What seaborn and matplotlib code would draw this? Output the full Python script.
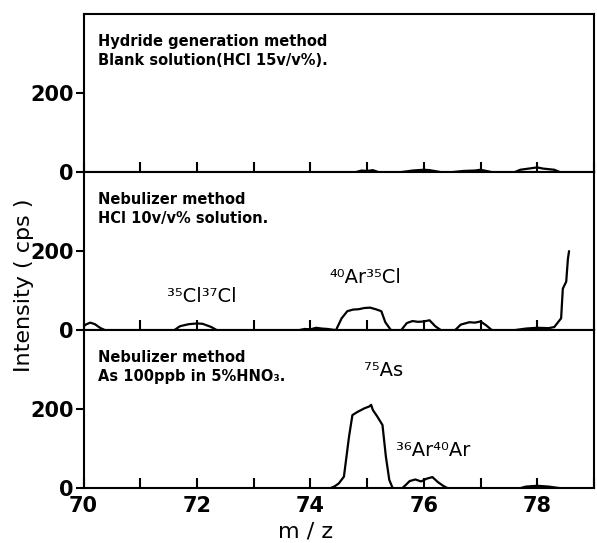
import numpy as np
import pandas as pd
import matplotlib
matplotlib.use("Agg")
import matplotlib.pyplot as plt
import seaborn as sns

# Hydride generation, blank solution
hydride_mz = [70.0, 74.8, 74.9, 75.0, 75.1, 75.2, 75.6, 75.8, 76.0, 76.1, 76.3, 76.5, 76.7,
              76.9, 77.0, 77.2, 77.6, 77.7, 77.9, 78.0, 78.1, 78.3, 78.4, 78.6]
hydride_cps = [0, 0, 4, 3, 5, 0, 0, 4, 6, 5, 0, 0, 3, 4, 6, 0, 0, 6, 10, 12, 9, 6, 0, 0]

# Nebulizer, HCl 10 v/v%
hcl_mz = [70.0, 70.05, 70.12, 70.2, 70.3, 70.38, 71.6, 71.7, 71.85, 72.0, 72.1, 72.25, 72.35,
          73.8, 73.9, 74.0, 74.1, 74.2, 74.3, 74.45, 74.55, 74.65, 74.75, 74.85, 74.95, 75.05,
          75.15, 75.25, 75.32, 75.42, 75.6, 75.7, 75.8, 75.9, 76.0, 76.1, 76.2, 76.3, 76.55,
          76.65, 76.8, 76.9, 77.0, 77.1, 77.2, 77.6, 77.8, 78.0, 78.2, 78.3, 78.42, 78.45,
          78.51, 78.54, 78.56]
hcl_cps = [10, 15, 19, 15, 5, 0, 0, 10, 15, 17, 16, 8, 0, 0, 3, 2, 6, 4, 3, 0, 30, 48, 52,
           53, 56, 57, 53, 48, 20, 0, 0, 18, 23, 21, 22, 25, 10, 0, 0, 14, 20, 19, 22, 12, 0,
           0, 4, 6, 5, 8, 30, 105, 123, 181, 200]

# Nebulizer, As 100 ppb in 5% HNO3
as_mz = [70.0, 74.35, 74.42, 74.5, 74.59, 74.68, 74.74, 74.83, 74.95, 75.04, 75.07, 75.1,
         75.18, 75.27, 75.33, 75.39, 75.45, 75.62, 75.68, 75.75, 75.85, 75.95, 76.05, 76.15,
         76.25, 76.35, 76.42, 77.7, 77.8, 78.0, 78.2, 78.4]
as_cps = [0, 0, 4, 12, 29, 130, 185, 193, 202, 207, 211, 198, 181, 160, 80, 21, 0, 0, 8, 18,
          22, 17, 24, 28, 15, 5, 0, 0, 4, 6, 4, 0]

panel_notes = ["Hydride generation method\nBlank solution(HCl 15v/v%).",
               "Nebulizer method\nHCl 10v/v% solution.",
               "Nebulizer method\nAs 100ppb in 5%HNO₃."]

# peak labels: (panel, m/z, cps, text)
peak_labels = [(1, 72.08, 86, "³⁵Cl³⁷Cl"),
               (1, 74.96, 132, "⁴⁰Ar³⁵Cl"),
               (2, 75.29, 298, "⁷⁵As"),
               (2, 76.16, 96, "³⁶Ar⁴⁰Ar")]

sns.set_style("ticks")
plt.rcParams['font.family'] = ['DejaVu Sans']
for key in ['text.color', 'xtick.color', 'ytick.color', 'axes.labelcolor', 'axes.edgecolor']:
    plt.rcParams[key] = 'black'

fig, axes = plt.subplots(3, 1, figsize=(5.97, 5.43), dpi=100, sharex=True)
fig.subplots_adjust(left=0.14, right=0.995, top=0.974, bottom=0.101, hspace=0)

spectra = [(hydride_mz, hydride_cps), (hcl_mz, hcl_cps), (as_mz, as_cps)]
for i, ax in enumerate(axes):
    df = pd.DataFrame({'mz': spectra[i][0], 'cps': spectra[i][1]})
    sns.lineplot(data=df, x='mz', y='cps', ax=ax, color='black', lw=1.6,
                 sort=False, estimator=None)
    ax.set_xlim(70, 79)
    ax.set_ylim(0, 400)
    ax.set_yticks([0, 200])
    ax.set_xticks(range(70, 80, 2))
    ax.set_xticks(range(70, 80), minor=True)
    ax.tick_params(axis='y', direction='out', length=6, width=1.5, labelsize=15, pad=1)
    ax.tick_params(axis='x', which='both', direction='in', length=7, width=1.5,
                   labelsize=15, pad=6)
    for lab in ax.get_yticklabels() + ax.get_xticklabels():
        lab.set_fontweight('bold')
    for sp in ax.spines.values():
        sp.set_linewidth(1.5)
        sp.set_color('black')
    ax.set_xlabel('')
    ax.set_ylabel('')
    ax.text(0.028, 0.875, panel_notes[i], transform=ax.transAxes, ha='left', va='top',
            fontsize=10.5, fontweight='bold', linespacing=1.35)

for p, x, y, txt in peak_labels:
    axes[p].text(x, y, txt, ha='center', va='center', fontsize=14)

fig.text(0.04, 0.475, 'Intensity ( cps )', rotation=90, ha='center', va='center',
         fontsize=16)
fig.text(0.511, 0.022, 'm / z', ha='center', va='center', fontsize=16)

fig.savefig('out.png', dpi=100)
